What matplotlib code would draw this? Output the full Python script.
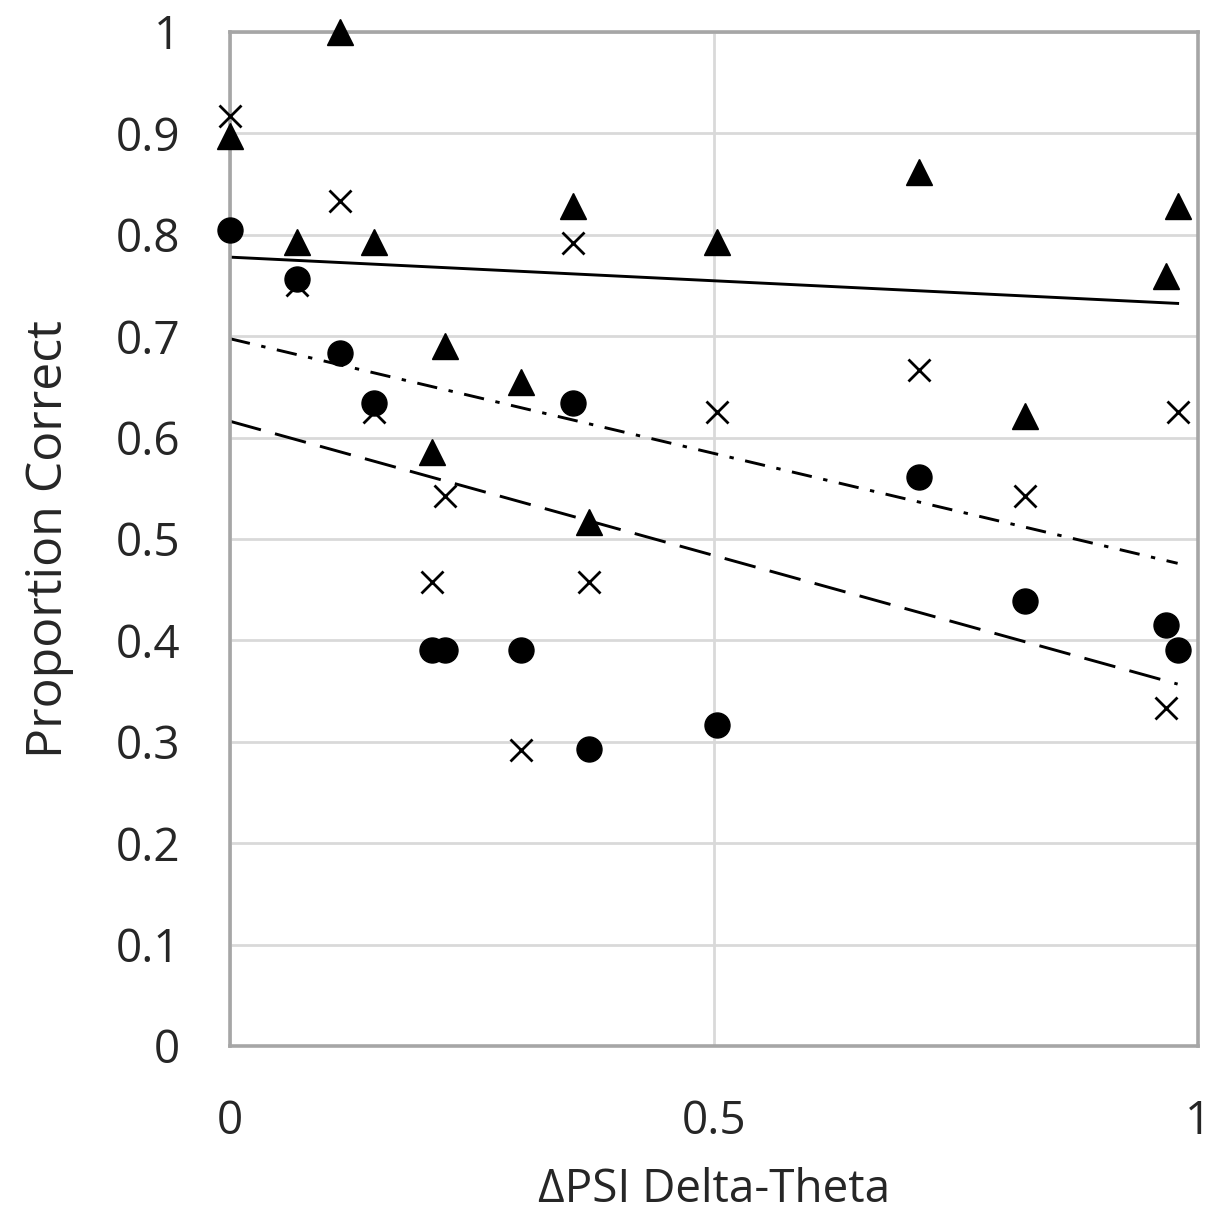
import numpy as np
import matplotlib.pyplot as plt

# x positions shared by all three groups (Delta PSI)
delta_psi = [0.0, 0.114, 0.069, 0.149, 0.222, 0.209, 0.301, 0.354, 0.371, 0.503, 0.712, 0.821, 0.967, 0.979]

# proportion correct per group
tri_y = [0.897, 1.0, 0.793, 0.793, 0.690, 0.586, 0.655, 0.828, 0.517, 0.793, 0.862, 0.621, 0.759, 0.828]
cross_y = [0.917, 0.833, 0.750, 0.625, 0.542, 0.458, 0.292, 0.792, 0.458, 0.625, 0.667, 0.542, 0.333, 0.625]
circ_y = [0.805, 0.683, 0.756, 0.634, 0.390, 0.390, 0.390, 0.634, 0.293, 0.317, 0.561, 0.439, 0.415, 0.390]

y_ticks = [0, 0.1, 0.2, 0.3, 0.4, 0.5, 0.6, 0.7, 0.8, 0.9, 1]
x_ticks = [0, 0.5, 1]

plt.rcParams['font.family'] = ['Open Sans', 'DejaVu Sans']

fig = plt.figure(figsize=(12.13, 12.11), dpi=100)
ax = fig.add_axes([0.1896, 0.1363, 0.798, 0.8373])

x = np.array(delta_psi)
ax.plot(x, tri_y, linestyle='none', marker='^', ms=19, color='black', zorder=3, clip_on=False)
ax.plot(x, cross_y, linestyle='none', marker='x', ms=16, mew=2, color='black', zorder=3, clip_on=False)
ax.plot(x, circ_y, linestyle='none', marker='o', ms=18, color='black', zorder=3, clip_on=False)

# linear trendlines, from 0 to the largest x
xs = np.array([0, x.max()])
styles = [(tri_y, '-'), (cross_y, (0, (7, 4, 1.5, 4))), (circ_y, (0, (11, 5)))]
for ys, ls in styles:
    k, b = np.polyfit(x, ys, 1)
    ax.plot(xs, k * xs + b, color='black', lw=2.1, linestyle=ls, zorder=2)

ax.set_xlim(0, 1)
ax.set_ylim(0, 1)
ax.set_xticks(x_ticks)
ax.set_xticklabels(['0', '0.5', '1'])
ax.set_yticks(y_ticks)
ax.set_yticklabels(['%g' % t for t in y_ticks])
ax.grid(True, color='#d9d9d9', lw=2)
ax.set_axisbelow(True)
for s in ax.spines.values():
    s.set_color('#a6a6a6')
    s.set_linewidth(2.6)
ax.tick_params(length=0, labelsize=33, labelcolor='#262626')
ax.tick_params(axis='y', pad=36)
ax.tick_params(axis='x', pad=38)

ax.set_ylabel('Proportion Correct', fontsize=36, color='#262626', labelpad=30)
ax.set_xlabel('ΔPSI Delta-Theta', fontsize=33, color='#262626', labelpad=16)

fig.savefig('out.png', dpi=100)
